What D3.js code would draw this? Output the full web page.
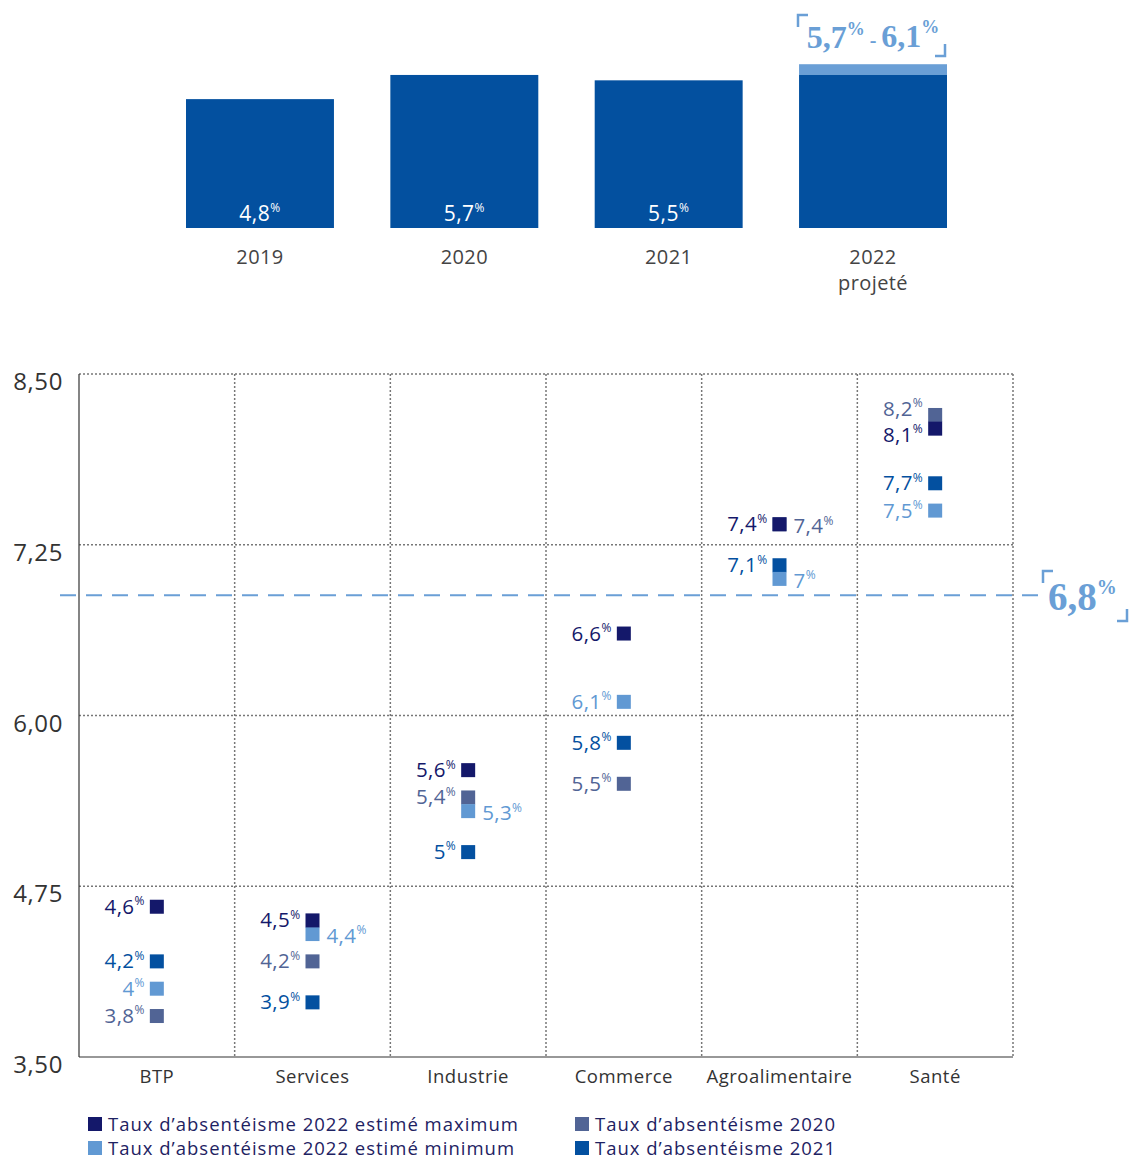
<!DOCTYPE html>
<html>
<head>
<meta charset="utf-8">
<script src="https://cdn.jsdelivr.net/npm/d3@7"></script>
<style>
  body { margin: 0; background: #fff; }
  svg { display: block; font-family: "Open Sans", sans-serif; }
</style>
</head>
<body>
<svg id="chart" width="1131" height="1159"></svg>
<script>
// --- données ---
var years = ["2019", "2020", "2021", "2022"];
var yearNotes = ["", "", "", "projeté"];
var yearRates = [4.8, 5.7, 5.5, 5.7];
var projMin = 5.7, projMax = 6.1;

var sectors = ["BTP", "Services", "Industrie", "Commerce", "Agroalimentaire", "Santé"];
var max2022 = [4.6, 4.5, 5.6, 6.6, 7.4, 8.1];
var min2022 = [4.0, 4.4, 5.3, 6.1, 7.0, 7.5];
var rate2020 = [3.8, 4.2, 5.4, 5.5, 7.4, 8.2];
var rate2021 = [4.2, 3.9, 5.0, 5.8, 7.1, 7.7];
var yTicks = [3.5, 4.75, 6, 7.25, 8.5];
var refValue = 6.88, refLabel = "6,8";

var legendLabels = [
  "Taux d’absentéisme 2022 estimé maximum",
  "Taux d’absentéisme 2022 estimé minimum",
  "Taux d’absentéisme 2020",
  "Taux d’absentéisme 2021"
];

// couleurs
var C = { max: "#14186a", min: "#6199d3", y2020: "#516495", y2021: "#0350a0", bar: "#03509f", light: "#6a9fd6" };

var svg = d3.select("#chart");
var comma = function(v) { return String(v).replace(".", ","); };

// texte "4,8%" avec % en exposant
function pct(sel, txt, size, pSize) {
  sel.append("tspan").attr("font-size", size).text(txt);
  sel.append("tspan").attr("font-size", pSize).attr("dy", -size * 0.42).text("%");
}

// ================= barres du haut =================
var xTop = d3.scaleBand().domain(years).range([186, 947]).paddingInner(0.276).paddingOuter(0);
var yTop = d3.scaleLinear().domain([0, projMax]).range([228, 228 - projMax * 26.85]);

var gTop = svg.append("g");
// partie projetée (claire)
gTop.append("rect")
  .attr("x", xTop("2022")).attr("width", xTop.bandwidth())
  .attr("y", yTop(projMax)).attr("height", yTop(projMin) - yTop(projMax))
  .attr("fill", C.light);

years.forEach(function(yr, i) {
  gTop.append("rect")
    .attr("x", xTop(yr)).attr("width", xTop.bandwidth())
    .attr("y", yTop(yearRates[i])).attr("height", yTop(0) - yTop(yearRates[i]))
    .attr("fill", C.bar);
  if (i < 3) {
    var t = gTop.append("text")
      .attr("x", xTop(yr) + xTop.bandwidth() / 2).attr("y", 221)
      .attr("text-anchor", "middle").attr("fill", "#fff").attr("letter-spacing", 0.5);
    pct(t, comma(yearRates[i]), 21, 12);
  }
  gTop.append("text")
    .attr("x", xTop(yr) + xTop.bandwidth() / 2).attr("y", 264)
    .attr("text-anchor", "middle").attr("fill", "#444").attr("font-size", 20).attr("letter-spacing", 0.4)
    .text(yr);
  if (yearNotes[i]) {
    gTop.append("text")
      .attr("x", xTop(yr) + xTop.bandwidth() / 2).attr("y", 290)
      .attr("text-anchor", "middle").attr("fill", "#444").attr("font-size", 20).attr("letter-spacing", 0.4)
      .text(yearNotes[i]);
  }
});

// étiquette de la fourchette projetée
function bracket(g, x0, y0, x1, y1) {
  g.append("path").attr("d", "M" + x0 + "," + (y0 + 12) + "V" + y0 + "H" + (x0 + 10))
    .attr("fill", "none").attr("stroke", C.light).attr("stroke-width", 2.5);
  g.append("path").attr("d", "M" + (x1 - 10) + "," + y1 + "H" + x1 + "V" + (y1 - 12))
    .attr("fill", "none").attr("stroke", C.light).attr("stroke-width", 2.5);
}
var xc = xTop("2022") + xTop.bandwidth() / 2;
var rng = gTop.append("text").attr("x", xc).attr("y", 48).attr("text-anchor", "middle")
  .attr("fill", C.light).attr("font-family", "Liberation Serif, serif").attr("font-weight", "bold");
pct(rng, comma(projMin), 32, 18);
rng.append("tspan").attr("font-size", 20).attr("dy", 12).text(" - ");
pct(rng, comma(projMax), 32, 18);
bracket(gTop, 798, 15, 945, 56);

// ================= nuage par secteur =================
var x = d3.scaleBand().domain(sectors).range([79, 1013]);
var y = d3.scaleLinear().domain([3.5, 8.5]).range([1057, 374]);
var g = svg.append("g");

// grille pointillée
g.selectAll(".hgrid").data(yTicks.filter(function(d) { return d > 3.5; })).enter().append("line")
  .attr("x1", x.range()[0]).attr("x2", x.range()[1])
  .attr("y1", function(d) { return y(d); }).attr("y2", function(d) { return y(d); })
  .attr("stroke", "#777").attr("stroke-width", 1.5).attr("stroke-dasharray", "2,2");
g.selectAll(".vgrid").data(sectors.slice(1).concat(["end"])).enter().append("line")
  .attr("x1", function(d) { return d === "end" ? x.range()[1] : x(d); })
  .attr("x2", function(d) { return d === "end" ? x.range()[1] : x(d); })
  .attr("y1", y(8.5)).attr("y2", y(3.5))
  .attr("stroke", "#777").attr("stroke-width", 1.5).attr("stroke-dasharray", "2,2");

// axes pleins
g.append("line").attr("x1", 79).attr("x2", 79).attr("y1", y(8.5)).attr("y2", y(3.5)).attr("stroke", "#333").attr("stroke-width", 1.2);
g.append("line").attr("x1", 79).attr("x2", x.range()[1]).attr("y1", y(3.5)).attr("y2", y(3.5)).attr("stroke", "#333").attr("stroke-width", 1.2);

// étiquettes Y
g.selectAll(".ytick").data(yTicks).enter().append("text")
  .attr("x", 63).attr("y", function(d) { return y(d) + 16; })
  .attr("text-anchor", "end").attr("font-size", 24).attr("letter-spacing", 0.6).attr("fill", "#333")
  .text(function(d) { return d3.format(".2f")(d).replace(".", ","); });

// étiquettes X
g.selectAll(".xtick").data(sectors).enter().append("text")
  .attr("x", function(d) { return x(d) + x.bandwidth() / 2; }).attr("y", 1083)
  .attr("text-anchor", "middle").attr("font-size", 18.5).attr("letter-spacing", 0.5).attr("fill", "#333")
  .text(function(d) { return d; });

// ligne de référence
g.append("line").attr("x1", 60).attr("x2", 1042).attr("y1", y(refValue)).attr("y2", y(refValue))
  .attr("stroke", C.light).attr("stroke-width", 2).attr("stroke-dasharray", "16,10");
var ref = g.append("text").attr("x", 1048).attr("y", y(refValue) + 15)
  .attr("fill", C.light).attr("font-family", "Liberation Serif, serif").attr("font-weight", "bold");
pct(ref, refLabel, 39, 20);
bracket(g, 1043, 571, 1127, 621);

// séries (ordre de dessin : max en dernier)
var series = [
  { key: "y2020", vals: rate2020, color: C.y2020 },
  { key: "y2021", vals: rate2021, color: C.y2021 },
  { key: "min", vals: min2022, color: C.min },
  { key: "max", vals: max2022, color: C.max }
];
// étiquettes placées à droite du marqueur
var labelRight = { "min|Services": 1, "min|Industrie": 1, "y2020|Agroalimentaire": 1, "min|Agroalimentaire": 1 };
// petits décalages verticaux quand deux étiquettes se touchent
var labelShift = { "y2020|Santé": -6, "max|Santé": 6 };
var sz = 14;

series.forEach(function(s) {
  var rows = sectors.map(function(sec, i) { return { sec: sec, v: s.vals[i] }; });
  g.selectAll(".m-" + s.key).data(rows).enter().append("rect")
    .attr("x", function(d) { return x(d.sec) + x.bandwidth() / 2 - sz / 2; })
    .attr("y", function(d) { return y(d.v) - sz / 2; })
    .attr("width", sz).attr("height", sz).attr("fill", s.color);
  rows.forEach(function(d) {
    var k = s.key + "|" + d.sec;
    var right = labelRight[k];
    var cx = x(d.sec) + x.bandwidth() / 2;
    var t = g.append("text")
      .attr("x", right ? cx + sz / 2 + 7 : cx - sz / 2 - 5)
      .attr("y", y(d.v) + (right ? 9 : 7) + (labelShift[k] || 0))
      .attr("text-anchor", right ? "start" : "end").attr("fill", s.color).attr("letter-spacing", 0.4);
    pct(t, comma(d.v), 20.5, 12);
  });
});

// légende
var legColors = [C.max, C.min, C.y2020, C.y2021];
var legPos = [[88, 1117], [88, 1141], [575, 1117], [575, 1141]];
legendLabels.forEach(function(lbl, i) {
  var p = legPos[i];
  svg.append("rect").attr("x", p[0]).attr("y", p[1]).attr("width", 14).attr("height", 14).attr("fill", legColors[i]);
  svg.append("text").attr("x", p[0] + 20).attr("y", p[1] + 14)
    .attr("font-size", 18.5).attr("letter-spacing", 1).attr("fill", "#1e2262").text(lbl);
});
</script>
</body>
</html>
